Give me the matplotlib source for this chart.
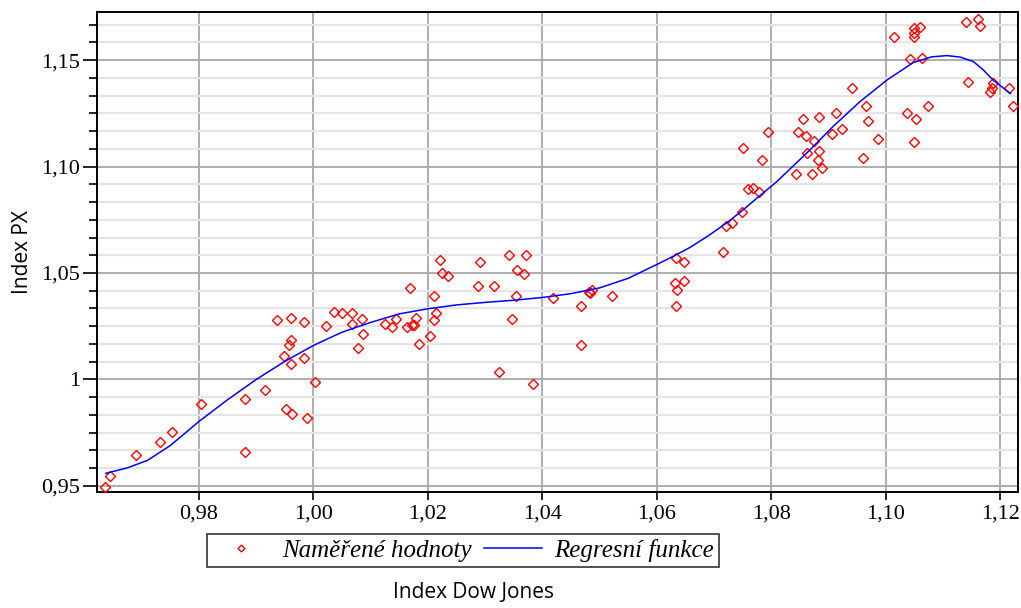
import matplotlib
matplotlib.use("Agg")
import matplotlib.pyplot as plt
from matplotlib.ticker import MultipleLocator, FixedLocator

# measured points (Index Dow Jones, Index PX)
dj = [0.9636, 0.9644, 0.9689, 0.9731, 0.9752, 0.9804, 0.9881, 0.9881, 0.9916, 0.9937,
      0.9961, 0.9983, 0.9961, 0.9958, 0.9948, 0.9983, 0.9961, 1.0003, 0.9952, 0.9963,
      0.9989, 1.0022,
      1.0035, 1.0049, 1.0067, 1.0067, 1.0084, 1.0087, 1.0077, 1.0168, 1.0125, 1.0137,
      1.0144, 1.0163, 1.0172, 1.0179, 1.0175, 1.0185, 1.0203, 1.0210, 1.0214, 1.0210,
      1.0221, 1.0224, 1.0235, 1.0291, 1.0287, 1.0315, 1.0342, 1.0371, 1.0355, 1.0367,
      1.0354, 1.0347, 1.0325, 1.0384,
      1.0419, 1.0481, 1.0486, 1.0483, 1.0468, 1.0468, 1.0521, 1.0634, 1.0647, 1.0632,
      1.0648, 1.0635, 1.0633,
      1.0716, 1.0721, 1.0731, 1.0749, 1.0760, 1.0768, 1.0778, 1.0751, 1.0784, 1.0794,
      1.0843, 1.0871, 1.0863, 1.0884, 1.0881, 1.0888, 1.0846, 1.0861, 1.0856, 1.0874,
      1.0884, 1.0913, 1.0906, 1.0923, 1.0941, 1.0965, 1.0969, 1.0961, 1.0987,
      1.1014, 1.1042, 1.1063, 1.1049, 1.1060, 1.1049, 1.1049, 1.1038, 1.1053, 1.1074,
      1.1049, 1.1140, 1.1161, 1.1165, 1.1143, 1.1188, 1.1186, 1.1183, 1.1215, 1.1223]
px = [0.9496, 0.9546, 0.9643, 0.9706, 0.9753, 0.9886, 0.9906, 0.9660, 0.9952, 1.0280,
      1.0290, 1.0271, 1.0185, 1.0160, 1.0111, 1.0100, 1.0074, 0.9989, 0.9859, 0.9839,
      0.9820, 1.0250,
      1.0318, 1.0310, 1.0313, 1.0261, 1.0282, 1.0214, 1.0149, 1.0430, 1.0261, 1.0247,
      1.0282, 1.0247, 1.0258, 1.0290, 1.0254, 1.0167, 1.0203, 1.0391, 1.0310, 1.0279,
      1.0563, 1.0498, 1.0488, 1.0551, 1.0441, 1.0441, 1.0584, 1.0584, 1.0516, 1.0496,
      1.0394, 1.0282, 1.0036, 0.9980,
      1.0384, 1.0410, 1.0418, 1.0404, 1.0344, 1.0160, 1.0394, 1.0571, 1.0552, 1.0454,
      1.0462, 1.0419, 1.0344,
      1.0599, 1.0723, 1.0735, 1.0786, 1.0895, 1.0899, 1.0880, 1.1088, 1.1033, 1.1163,
      1.0965, 1.0965, 1.1064, 1.1072, 1.1033, 1.0994, 1.1163, 1.1143, 1.1221, 1.1122,
      1.1231, 1.1252, 1.1153, 1.1174, 1.1369, 1.1286, 1.1213, 1.1041, 1.1127,
      1.1606, 1.1504, 1.1509, 1.1649, 1.1657, 1.1629, 1.1610, 1.1250, 1.1222, 1.1286,
      1.1117, 1.1681, 1.1693, 1.1660, 1.1399, 1.1391, 1.1371, 1.1352, 1.1371, 1.1285]

# regression curve
reg_x = [0.9637, 0.9675, 0.9710, 0.9750, 0.9800, 0.9850, 0.9900, 0.9950, 1.0000,
         1.0050, 1.0100, 1.0150, 1.0200, 1.0250, 1.0300, 1.0350, 1.0400, 1.0450,
         1.0500, 1.0550, 1.0600, 1.0630, 1.0658, 1.0690, 1.0723, 1.0750, 1.0772,
         1.0810, 1.0863, 1.0908, 1.0955, 1.1003, 1.1048, 1.1080, 1.1107, 1.1130,
         1.1153, 1.1170, 1.1188, 1.1205, 1.1218]
reg_y = [0.9559, 0.9585, 0.9620, 0.9690, 0.9803, 0.9905, 1.0000, 1.0085, 1.0160,
         1.0222, 1.0268, 1.0308, 1.0332, 1.0350, 1.0362, 1.0372, 1.0385, 1.0403,
         1.0430, 1.0475, 1.0540, 1.0580, 1.0620, 1.0675, 1.0737, 1.0795, 1.0845,
         1.0930, 1.1066, 1.1188, 1.1305, 1.1408, 1.1488, 1.1515, 1.1521, 1.1514,
         1.1493, 1.1455, 1.1405, 1.1370, 1.1343]

x_ticks = [0.98, 1.00, 1.02, 1.04, 1.06, 1.08, 1.10, 1.12]
x_labels = ["0,98", "1,00", "1,02", "1,04", "1,06", "1,08", "1,10", "1,12"]
y_ticks = [0.95, 1.00, 1.05, 1.10, 1.15]
y_labels = ["0,95", "1", "1,05", "1,10", "1,15"]

fig = plt.figure(figsize=(10.21, 6.08), dpi=100)
ax = fig.add_axes([0.095, 0.191, 0.902, 0.789])

ax.plot(dj, px, linestyle="none", marker="D", markersize=5, markerfacecolor="none",
        markeredgecolor="red", markeredgewidth=1.0, label="Naměřené hodnoty", zorder=3)
ax.plot(reg_x, reg_y, color="#0000ff", linewidth=1.1, label="Regresní funkce", zorder=4)

ax.set_xlim(0.96217, 1.1231)
ax.set_ylim(0.9472, 1.1725)

ax.xaxis.set_major_locator(FixedLocator(x_ticks))
ax.set_xticklabels(x_labels)
ax.yaxis.set_major_locator(FixedLocator(y_ticks))
ax.set_yticklabels(y_labels)
ax.yaxis.set_minor_locator(MultipleLocator(0.05 / 6))

ax.grid(which="major", color="#a8a8a8", linewidth=1.3, zorder=0)
ax.grid(which="minor", axis="y", color="#e4e4e4", linewidth=1.6, zorder=0)
ax.set_axisbelow(True)

for s in ax.spines.values():
    s.set_color("black")
    s.set_linewidth(1.4)

ax.tick_params(axis="y", which="major", length=10, width=1.2, labelsize=16, pad=2)
ax.tick_params(axis="y", which="minor", length=6, width=1.2)
ax.tick_params(axis="x", which="major", length=6, width=1.2, labelsize=16, pad=3)
for lab in ax.get_xticklabels() + ax.get_yticklabels():
    lab.set_family("Liberation Serif")

fig.text(23 / 1021, 1 - 252 / 608, "Index PX", rotation=90, ha="center", va="center",
         family="Open Sans", fontsize=15)
fig.text(473 / 1021, 1 - 592 / 608, "Index Dow Jones", ha="center", va="center",
         family="Open Sans", fontsize=15)

leg = fig.legend(loc="center", bbox_to_anchor=(0.4535, 0.0946), ncol=2, frameon=True,
                 fancybox=False, prop={"family": "Liberation Serif", "style": "italic", "size": 18},
                 handlelength=2.3, columnspacing=0.5, handletextpad=0.5, borderpad=0.2,
                 markerscale=0.7)
leg.get_frame().set_edgecolor("black")
leg.get_frame().set_linewidth(1.2)

fig.savefig("out.png", dpi=100)
